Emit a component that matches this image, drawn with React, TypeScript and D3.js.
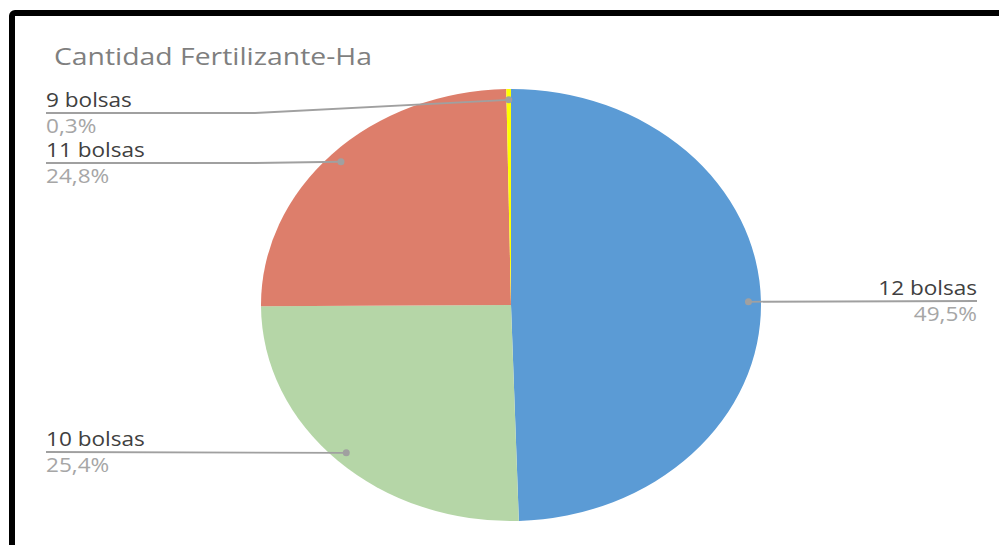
import React from "react";
import * as d3 from "d3";

const categories = ["12 bolsas", "10 bolsas", "11 bolsas", "9 bolsas"];
const values = [49.5, 25.4, 24.8, 0.3];
const percentLabels = ["49,5%", "25,4%", "24,8%", "0,3%"];
const colors = ["#5B9BD5", "#B5D6A7", "#DD7E6B", "#FFFF00"];

const W = 999;
const H = 545;
const cx = 511;
const cy = 305;
const rx = 250;
const ry = 216;
const stretch = rx / ry;

// label layout: anchor side, text x, line y, elbow x
const labelLayout = [
  { side: "right", x: 977, lineY: 301, elbowX: null },
  { side: "left", x: 46, lineY: 452, elbowX: null },
  { side: "left", x: 46, lineY: 163, elbowX: 255 },
  { side: "left", x: 46, lineY: 113, elbowX: 255 },
];

export default function App() {
  const pie = d3
    .pie<number>()
    .sort(null)
    .value((d) => d);
  const arcs = pie(values);
  const arcGen = d3.arc<d3.PieArcDatum<number>>().innerRadius(0).outerRadius(ry);
  const dotGen = d3
    .arc<d3.PieArcDatum<number>>()
    .innerRadius(ry * 0.95)
    .outerRadius(ry * 0.95);
  const font = "'Open Sans', 'Noto Sans', sans-serif";

  return (
    <svg
      width={W}
      height={H}
      style={{ position: "absolute", left: 0, top: 0, background: "#fff" }}
    >
      <rect
        x={12}
        y={13}
        width={1200}
        height={700}
        rx={3}
        fill="#fff"
        stroke="#000"
        strokeWidth={6}
      />
      <text
        transform={`translate(54,65) scale(${stretch},1)`}
        fontFamily={font}
        fontSize={24.5}
        fill="#7f7f7f"
      >
        Cantidad Fertilizante-Ha
      </text>
      <g transform={`translate(${cx},${cy}) scale(${stretch},1)`}>
        {arcs.map((a, i) => (
          <path key={i} d={arcGen(a) || ""} fill={colors[i]} />
        ))}
      </g>
      {arcs.map((a, i) => {
        const [dxr, dy] = dotGen.centroid(a);
        const px = cx + dxr * stretch;
        const py = cy + dy;
        const L = labelLayout[i];
        let pts: [number, number][];
        if (L.elbowX != null) {
          pts = [
            [px, py],
            [L.elbowX, L.lineY],
            [L.x, L.lineY],
          ];
        } else {
          pts = [
            [px, py],
            [L.x, L.lineY],
          ];
        }
        const line = d3.line()(pts) || "";
        const anchor = L.side === "right" ? "end" : "start";
        return (
          <g key={"l" + i}>
            <path d={line} fill="none" stroke="#a0a0a0" strokeWidth={1.8} />
            <circle cx={px} cy={py} r={3.5} fill="#a0a0a0" />
            <text
              transform={`translate(${L.x},${L.lineY - 6}) scale(${stretch},1)`}
              textAnchor={anchor}
              fontFamily={font}
              fontSize={19.5}
              fill="#404040"
            >
              {categories[i]}
            </text>
            <text
              transform={`translate(${L.x},${L.lineY + 20}) scale(${stretch},1)`}
              textAnchor={anchor}
              fontFamily={font}
              fontSize={19.5}
              fill="#a6a6a6"
            >
              {percentLabels[i]}
            </text>
          </g>
        );
      })}
    </svg>
  );
}
